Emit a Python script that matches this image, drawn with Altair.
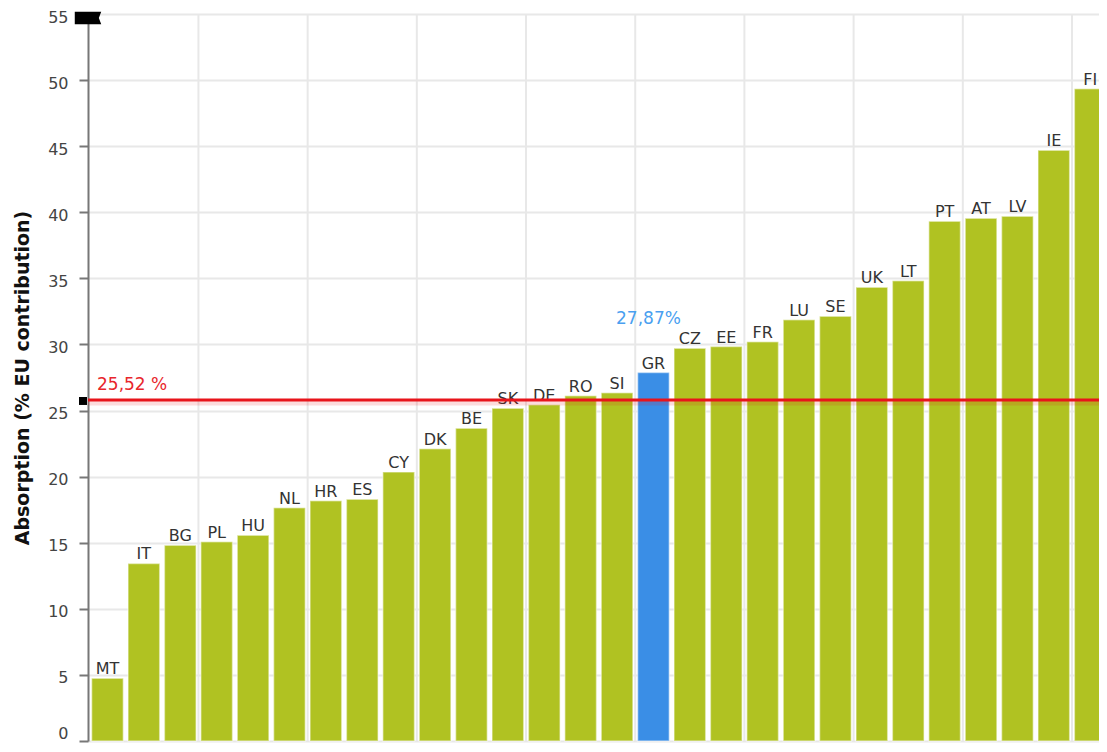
import altair as alt
import pandas as pd

countries = ["MT", "IT", "BG", "PL", "HU", "NL", "HR", "ES", "CY", "DK", "BE", "SK", "DE", "RO",
             "SI", "GR", "CZ", "EE", "FR", "LU", "SE", "UK", "LT", "PT", "AT", "LV", "IE", "FI"]
absorption = [4.75, 13.43, 14.8, 15.07, 15.57, 17.64, 18.17, 18.29, 20.35, 22.11, 23.67, 25.18, 25.43, 26.11,
              26.34, 27.87, 29.71, 29.84, 30.21, 31.87, 32.13, 34.32, 34.82, 39.32, 39.55, 39.7, 44.7, 49.34]
highlight = "GR"
highlight_label = "27,87%"
average_value = 25.8
average_label = "25,52 %"
y_ticks = [0, 5, 10, 15, 20, 25, 30, 35, 40, 45, 50, 55]
tick_countries = countries[::3]
grid_countries = countries[3::3]
y_title = "Absorption (% EU contribution)"

W, H = 1021.7, 727
FONT = "DejaVu Sans"

df = pd.DataFrame({"country": countries, "value": absorption})
df["hl"] = df["country"] == highlight
grid_df = pd.DataFrame({"country": grid_countries})
avg_df = pd.DataFrame({"value": [average_value], "label": [average_label]})
hl_df = df[df["hl"]].copy()
hl_df["label"] = highlight_label
top_df = pd.DataFrame({"value": [y_ticks[-1]]})

x_scale = alt.Scale(domain=countries, paddingInner=0.13, paddingOuter=0.1)
y_scale = alt.Scale(domain=[0, 55], nice=False)

y_axis = alt.Axis(values=y_ticks, title=y_title, titleFont=FONT, titleFontSize=19, titleFontWeight="bold",
                  titleColor="#111111", titleX=-66, titleY=H / 2, titleAngle=270, titleAlign="center",
                  titleBaseline="middle", labelFont=FONT, labelFontSize=16, labelColor="#444444",
                  labelPadding=11,
                  labelOffset=alt.condition("datum.value == 0", alt.value(-8), alt.value(3)),
                  tickSize=9, tickWidth=2, tickColor="#777777",
                  domainColor="#777777", domainWidth=2, gridColor="#e8e8e8", gridWidth=2)
x_axis = alt.Axis(values=tick_countries, labels=False, title=None, grid=False, tickSize=6, tickWidth=2,
                  tickColor="#777777", domainColor="#aaaaaa", domainWidth=2)

vgrid = alt.Chart(grid_df).mark_rule(color="#e8e8e8", strokeWidth=2).encode(
    x=alt.X("country:N", scale=x_scale, bandPosition=0, axis=None),
    xOffset=alt.value(-2.4),
    y=alt.value(0), y2=alt.value(H))

bars = alt.Chart(df).mark_bar(stroke="white", strokeOpacity=0.45, strokeWidth=1.5).encode(
    x=alt.X("country:N", scale=x_scale, axis=x_axis, sort=countries),
    y=alt.Y("value:Q", scale=y_scale, axis=y_axis),
    color=alt.condition(alt.datum.hl, alt.value("#3a8ee6"), alt.value("#b0c222")))

labels = alt.Chart(df).mark_text(font=FONT, fontSize=16, color="#333333", baseline="bottom", dy=-1).encode(
    x=alt.X("country:N", scale=x_scale), y=alt.Y("value:Q", scale=y_scale), text="country:N")

band = alt.Chart(avg_df).mark_rule(color="#e8141b", opacity=0.15, strokeWidth=5).encode(
    y=alt.Y("value:Q", scale=y_scale), yOffset=alt.value(3))
line = alt.Chart(avg_df).mark_rule(color="#e8141b", strokeWidth=3).encode(y=alt.Y("value:Q", scale=y_scale))
avg_text = alt.Chart(avg_df).mark_text(font=FONT, fontSize=17, color="#e8262c", align="left",
                                       baseline="bottom", dx=9, dy=-6).encode(
    x=alt.value(0), y=alt.Y("value:Q", scale=y_scale), text="label:N")
marker = alt.Chart(avg_df).mark_point(shape="square", filled=True, color="black", size=64, opacity=1).encode(
    x=alt.value(-5), y=alt.Y("value:Q", scale=y_scale), yOffset=alt.value(1))

hl_text = alt.Chart(hl_df).mark_text(font=FONT, fontSize=17, color="#4a9ff0", baseline="bottom",
                                     dx=-5, dy=-45).encode(
    x=alt.X("country:N", scale=x_scale), y=alt.Y("value:Q", scale=y_scale), text="label:N")

flag = alt.Chart(top_df).mark_point(shape="M-1,-0.47L1,-0.47L0.82,0L1,0.47L-1,0.47Z", filled=True,
                                    color="black", size=700, opacity=1).encode(
    x=alt.value(0), y=alt.Y("value:Q", scale=y_scale), yOffset=alt.value(4))

chart = alt.layer(vgrid, bars, labels, band, line, avg_text, hl_text, marker, flag).properties(
    width=W, height=H, autosize=alt.AutoSizeParams(type="none"),
    padding={"left": 80, "top": 6, "right": -10.7, "bottom": 3},
    background="white").configure_view(stroke=None)

chart.save("out.html", embed_options={"renderer": "svg", "actions": False})
